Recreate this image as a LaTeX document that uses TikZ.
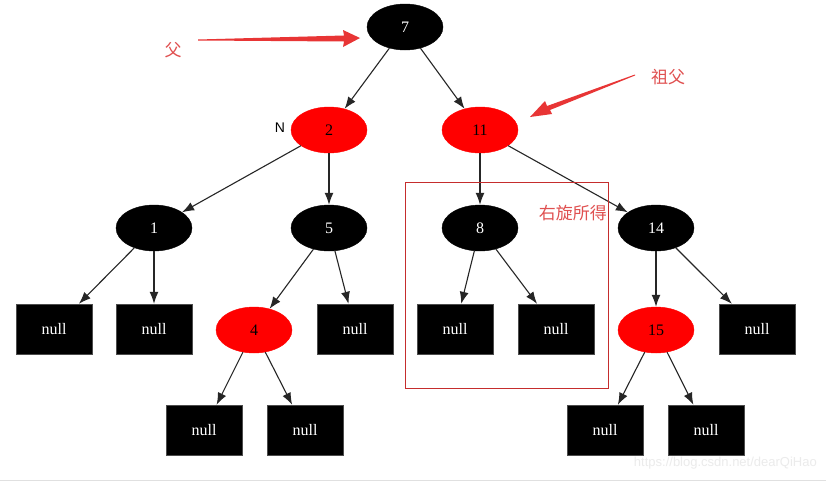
\documentclass[tikz,border=0pt]{standalone}
\usepackage{fontspec}
\setmainfont{Liberation Serif}
\newfontfamily\cjk{Noto Sans CJK SC}
\newfontfamily\sans{Liberation Sans}
\usetikzlibrary{shapes.geometric,arrows.meta}
\definecolor{annot}{HTML}{E83535}
\definecolor{annottext}{HTML}{E05050}
\tikzset{
  blk/.style={ellipse,fill=black,draw=black,minimum width=76pt,minimum height=46pt,inner sep=0pt,text=white,font=\fontsize{16}{16}\selectfont},
  rd/.style={ellipse,fill=red,draw=red,minimum width=76pt,minimum height=46pt,inner sep=0pt,text=black,font=\fontsize{16}{16}\selectfont},
  nil/.style={rectangle,fill=black,draw=black!70,minimum width=76pt,minimum height=50pt,inner sep=0pt,text=white,font=\fontsize{16}{16}\selectfont},
  edge/.style={draw=black!85,line width=1.1pt,-{Latex[length=12pt,width=9pt]}},
  note/.style={text=annottext,font=\cjk\fontsize{17}{17}\selectfont,inner sep=0pt},
}
\begin{document}
\begin{tikzpicture}[x=1pt,y=-1pt]
\useasboundingbox (0,0) rectangle (826,482);
\fill[white] (0,0) rectangle (826,482);
% nodes
\node[blk] (n7) at (405,27) {7};
\node[rd] (n2) at (329,130) {2};
\node[rd] (n11) at (480,130) {11};
\node[blk] (n1) at (154,228) {1};
\node[blk] (n5) at (329,228) {5};
\node[blk] (n8) at (480,228) {8};
\node[blk] (n14) at (656,228) {14};
\node[nil] (a1) at (54,329) {null};
\node[nil] (a2) at (154,329) {null};
\node[rd] (n4) at (254,330) {4};
\node[nil] (a3) at (355,329) {null};
\node[nil] (a4) at (455,329) {null};
\node[nil] (a5) at (556,329) {null};
\node[rd] (n15) at (656,330) {15};
\node[nil] (a6) at (757,329) {null};
\node[nil] (b1) at (204,430) {null};
\node[nil] (b2) at (305,430) {null};
\node[nil] (b3) at (605,430) {null};
\node[nil] (b4) at (706,430) {null};
% edges
\draw[edge] (n7) -- (n2);
\draw[edge] (n7) -- (n11);
\draw[edge] (n2) -- (n1);
\draw[edge] (n2) -- (n5);
\draw[edge] (n11) -- (n8);
\draw[edge] (n11) -- (n14);
\draw[edge] (n1) -- (a1);
\draw[edge] (n1) -- (a2);
\draw[edge] (n5) -- (n4);
\draw[edge] (n5) -- (a3);
\draw[edge] (n8) -- (a4);
\draw[edge] (n8) -- (a5);
\draw[edge] (n14) -- (n15);
\draw[edge] (n14) -- (a6);
\draw[edge] (n4) -- (b1);
\draw[edge] (n4) -- (b2);
\draw[edge] (n15) -- (b3);
\draw[edge] (n15) -- (b4);
% label N
\node[font=\sans\fontsize{14}{14}\selectfont,inner sep=0pt] (lblN) at (280,128) {N};
% red frame
\draw[draw=annot!85!black,line width=0.7pt] (405,182) rectangle (608,388);
\node[note,anchor=east] (rot) at (607,213) {右旋所得};
% annotation arrows
\node[note] (fu) at (173,50) {父};
\node[note] (zufu) at (668,77) {祖父};
\fill[annot] (198,39.5) -- (344,35.5) -- (343,30) -- (360,38) -- (343,47) -- (344,41.5) -- (198,40.5) -- cycle;
\fill[annot] (635,74.5) -- (547,106) -- (545,101) -- (530,117) -- (552,114) -- (550,110) -- (635,75.5) -- cycle;
% watermark
\node[font=\sans\fontsize{13}{13}\selectfont,text=black!8,anchor=east,inner sep=0pt] (wm) at (817,463) {https://blog.csdn.net/dearQiHao};
\draw[black!12,line width=0.8pt] (0,480.5) -- (826,480.5);
\end{tikzpicture}
\end{document}
